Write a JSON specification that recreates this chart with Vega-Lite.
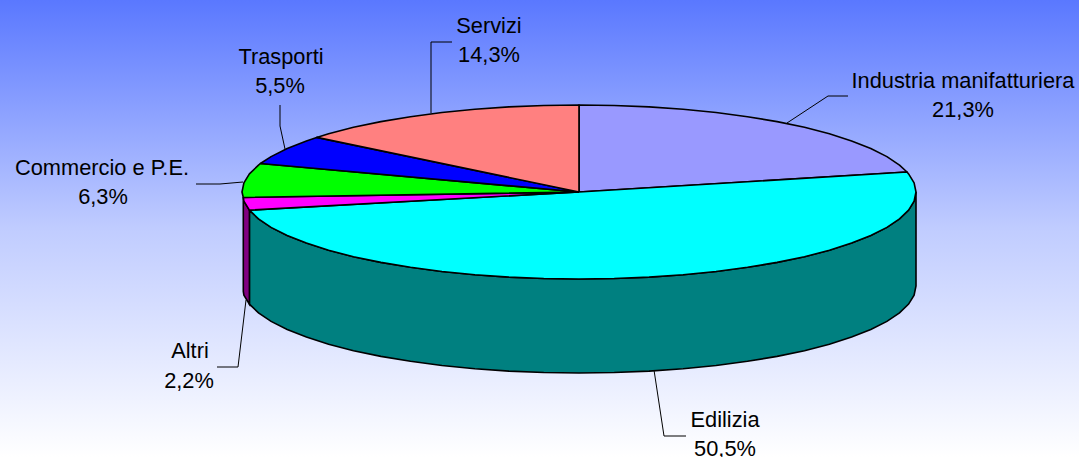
{
"$schema":"https://vega.github.io/schema/vega-lite/v6.json",
"width":1079,"height":457,
"autosize":"none",
"padding":0,
"config":{"view":{"stroke":null},"font":"Liberation Sans"},
"view":{"stroke":null,"fill":{"gradient":"linear","x1":0,"y1":0,"x2":0,"y2":1,"stops":[{"offset":0,"color":"#5a78ff"},{"offset":0.5,"color":"#c0ccff"},{"offset":1,"color":"#ffffff"}]}},
"datasets":{
"walls":[
{"s":"Edilizia","x":916,"y":192,"y2":286},
{"s":"Edilizia","x":914.1,"y":201.1,"y2":295.1},
{"s":"Edilizia","x":908.6,"y":210.1,"y2":304.1},
{"s":"Edilizia","x":899.5,"y":218.9,"y2":312.9},
{"s":"Edilizia","x":886.9,"y":227.4,"y2":321.4},
{"s":"Edilizia","x":870.8,"y":235.5,"y2":329.5},
{"s":"Edilizia","x":851.6,"y":243.1,"y2":337.1},
{"s":"Edilizia","x":829.4,"y":250.2,"y2":344.2},
{"s":"Edilizia","x":804.5,"y":256.7,"y2":350.7},
{"s":"Edilizia","x":777.1,"y":262.4,"y2":356.4},
{"s":"Edilizia","x":747.5,"y":267.3,"y2":361.3},
{"s":"Edilizia","x":716.1,"y":271.5,"y2":365.5},
{"s":"Edilizia","x":683.1,"y":274.7,"y2":368.7},
{"s":"Edilizia","x":649.1,"y":277.1,"y2":371.1},
{"s":"Edilizia","x":614.2,"y":278.5,"y2":372.5},
{"s":"Edilizia","x":579,"y":279,"y2":373},
{"s":"Edilizia","x":543.8,"y":278.5,"y2":372.5},
{"s":"Edilizia","x":508.9,"y":277.1,"y2":371.1},
{"s":"Edilizia","x":474.9,"y":274.7,"y2":368.7},
{"s":"Edilizia","x":441.9,"y":271.5,"y2":365.5},
{"s":"Edilizia","x":410.5,"y":267.3,"y2":361.3},
{"s":"Edilizia","x":380.9,"y":262.4,"y2":356.4},
{"s":"Edilizia","x":353.5,"y":256.7,"y2":350.7},
{"s":"Edilizia","x":328.6,"y":250.2,"y2":344.2},
{"s":"Edilizia","x":306.4,"y":243.1,"y2":337.1},
{"s":"Edilizia","x":287.2,"y":235.5,"y2":329.5},
{"s":"Edilizia","x":271.1,"y":227.4,"y2":321.4},
{"s":"Edilizia","x":258.5,"y":218.9,"y2":312.9},
{"s":"Edilizia","x":249.4,"y":210.1,"y2":304.1},
{"s":"Altri","x":249.4,"y":210.1,"y2":304.1},
{"s":"Altri","x":243.9,"y":201.1,"y2":295.1},
{"s":"Altri","x":243.3,"y":197.5,"y2":291.5}
],
"tops":[
{"s":"Industria","i":0,"x":579,"y":192},
{"s":"Industria","i":1,"x":579,"y":105},
{"s":"Industria","i":2,"x":614.2,"y":105.5},
{"s":"Industria","i":3,"x":649.1,"y":106.9},
{"s":"Industria","i":4,"x":683.1,"y":109.3},
{"s":"Industria","i":5,"x":716.1,"y":112.5},
{"s":"Industria","i":6,"x":747.5,"y":116.7},
{"s":"Industria","i":7,"x":777.1,"y":121.6},
{"s":"Industria","i":8,"x":804.5,"y":127.3},
{"s":"Industria","i":9,"x":829.4,"y":133.8},
{"s":"Industria","i":10,"x":851.6,"y":140.9},
{"s":"Industria","i":11,"x":870.8,"y":148.5},
{"s":"Industria","i":12,"x":886.9,"y":156.6},
{"s":"Industria","i":13,"x":899.5,"y":165.1},
{"s":"Industria","i":14,"x":907,"y":172},
{"s":"Industria","i":15,"x":579,"y":192},
{"s":"Edilizia","i":0,"x":579,"y":192},
{"s":"Edilizia","i":1,"x":907,"y":172},
{"s":"Edilizia","i":2,"x":908.6,"y":173.9},
{"s":"Edilizia","i":3,"x":914.1,"y":182.9},
{"s":"Edilizia","i":4,"x":916,"y":192},
{"s":"Edilizia","i":5,"x":914.1,"y":201.1},
{"s":"Edilizia","i":6,"x":908.6,"y":210.1},
{"s":"Edilizia","i":7,"x":899.5,"y":218.9},
{"s":"Edilizia","i":8,"x":886.9,"y":227.4},
{"s":"Edilizia","i":9,"x":870.8,"y":235.5},
{"s":"Edilizia","i":10,"x":851.6,"y":243.1},
{"s":"Edilizia","i":11,"x":829.4,"y":250.2},
{"s":"Edilizia","i":12,"x":804.5,"y":256.7},
{"s":"Edilizia","i":13,"x":777.1,"y":262.4},
{"s":"Edilizia","i":14,"x":747.5,"y":267.3},
{"s":"Edilizia","i":15,"x":716.1,"y":271.5},
{"s":"Edilizia","i":16,"x":683.1,"y":274.7},
{"s":"Edilizia","i":17,"x":649.1,"y":277.1},
{"s":"Edilizia","i":18,"x":614.2,"y":278.5},
{"s":"Edilizia","i":19,"x":579,"y":279},
{"s":"Edilizia","i":20,"x":543.8,"y":278.5},
{"s":"Edilizia","i":21,"x":508.9,"y":277.1},
{"s":"Edilizia","i":22,"x":474.9,"y":274.7},
{"s":"Edilizia","i":23,"x":441.9,"y":271.5},
{"s":"Edilizia","i":24,"x":410.5,"y":267.3},
{"s":"Edilizia","i":25,"x":380.9,"y":262.4},
{"s":"Edilizia","i":26,"x":353.5,"y":256.7},
{"s":"Edilizia","i":27,"x":328.6,"y":250.2},
{"s":"Edilizia","i":28,"x":306.4,"y":243.1},
{"s":"Edilizia","i":29,"x":287.2,"y":235.5},
{"s":"Edilizia","i":30,"x":271.1,"y":227.4},
{"s":"Edilizia","i":31,"x":258.5,"y":218.9},
{"s":"Edilizia","i":32,"x":249.4,"y":210.1},
{"s":"Edilizia","i":33,"x":579,"y":192},
{"s":"Altri","i":0,"x":579,"y":192},
{"s":"Altri","i":1,"x":249.4,"y":210.1},
{"s":"Altri","i":2,"x":243.9,"y":201.1},
{"s":"Altri","i":3,"x":243.3,"y":197.5},
{"s":"Altri","i":4,"x":579,"y":192},
{"s":"Commercio","i":0,"x":579,"y":192},
{"s":"Commercio","i":1,"x":243.3,"y":197.5},
{"s":"Commercio","i":2,"x":242,"y":192},
{"s":"Commercio","i":3,"x":243.9,"y":182.9},
{"s":"Commercio","i":4,"x":249.4,"y":173.9},
{"s":"Commercio","i":5,"x":258.5,"y":165.1},
{"s":"Commercio","i":6,"x":260.4,"y":163.5},
{"s":"Commercio","i":7,"x":579,"y":192},
{"s":"Trasporti","i":0,"x":579,"y":192},
{"s":"Trasporti","i":1,"x":260.4,"y":163.5},
{"s":"Trasporti","i":2,"x":271.1,"y":156.6},
{"s":"Trasporti","i":3,"x":287.2,"y":148.5},
{"s":"Trasporti","i":4,"x":306.4,"y":140.9},
{"s":"Trasporti","i":5,"x":316.7,"y":137.4},
{"s":"Trasporti","i":6,"x":579,"y":192},
{"s":"Servizi","i":0,"x":579,"y":192},
{"s":"Servizi","i":1,"x":316.7,"y":137.4},
{"s":"Servizi","i":2,"x":328.6,"y":133.8},
{"s":"Servizi","i":3,"x":353.5,"y":127.3},
{"s":"Servizi","i":4,"x":380.9,"y":121.6},
{"s":"Servizi","i":5,"x":410.5,"y":116.7},
{"s":"Servizi","i":6,"x":441.9,"y":112.5},
{"s":"Servizi","i":7,"x":474.9,"y":109.3},
{"s":"Servizi","i":8,"x":508.9,"y":106.9},
{"s":"Servizi","i":9,"x":543.8,"y":105.5},
{"s":"Servizi","i":10,"x":579,"y":105},
{"s":"Servizi","i":11,"x":579,"y":192}
],
"leaders":[
{"s":"Industria","i":0,"x":787,"y":123},{"s":"Industria","i":1,"x":828,"y":96},{"s":"Industria","i":2,"x":848,"y":96},
{"s":"Trasporti","i":0,"x":280,"y":105},{"s":"Trasporti","i":1,"x":280,"y":126},{"s":"Trasporti","i":2,"x":285,"y":149},
{"s":"Servizi","i":0,"x":431,"y":113},{"s":"Servizi","i":1,"x":431,"y":42},{"s":"Servizi","i":2,"x":452,"y":42},
{"s":"Commercio","i":0,"x":196,"y":184},{"s":"Commercio","i":1,"x":220,"y":184},{"s":"Commercio","i":2,"x":243,"y":182},
{"s":"Altri","i":0,"x":246,"y":300},{"s":"Altri","i":1,"x":238,"y":367},{"s":"Altri","i":2,"x":217,"y":367},
{"s":"Edilizia","i":0,"x":654,"y":370},{"s":"Edilizia","i":1,"x":664,"y":436},{"s":"Edilizia","i":2,"x":686,"y":436}
],
"labels":[
{"t":"Servizi","x":489,"y":26},{"t":"14,3%","x":489,"y":55},
{"t":"Trasporti","x":281,"y":57},{"t":"5,5%","x":280,"y":86},
{"t":"Industria manifatturiera","x":963,"y":81},{"t":"21,3%","x":963,"y":110},
{"t":"Commercio e P.E.","x":102,"y":168},{"t":"6,3%","x":103,"y":197},
{"t":"Altri","x":190,"y":351},{"t":"2,2%","x":189,"y":381},
{"t":"Edilizia","x":725,"y":420},{"t":"50,5%","x":725,"y":449}
]
},
"layer":[
{"data":{"name":"walls"},
 "mark":{"type":"area","stroke":"black","strokeWidth":1.6},
 "encoding":{
  "x":{"field":"x","type":"quantitative","scale":{"domain":[0,1079],"nice":false,"zero":false},"axis":null},
  "y":{"field":"y","type":"quantitative","scale":{"domain":[457,0],"nice":false,"zero":false},"axis":null},
  "y2":{"field":"y2"},
  "fill":{"field":"s","type":"nominal","scale":{"domain":["Edilizia","Altri"],"range":["#008080","#800080"]},"legend":null}
 }},
{"data":{"name":"tops"},
 "mark":{"type":"line","stroke":"black","strokeWidth":1.6,"strokeJoin":"round"},
 "encoding":{
  "x":{"field":"x","type":"quantitative","axis":null},
  "y":{"field":"y","type":"quantitative","axis":null},
  "order":{"field":"i","type":"quantitative"},
  "detail":{"field":"s"},
  "fill":{"field":"s","type":"nominal","scale":{"domain":["Industria","Edilizia","Altri","Commercio","Trasporti","Servizi"],"range":["#9999ff","#00ffff","#ff00ff","#00ff00","#0000ff","#ff8080"]},"legend":null}
 }},
{"data":{"name":"leaders"},
 "mark":{"type":"line","stroke":"black","strokeWidth":1},
 "encoding":{
  "x":{"field":"x","type":"quantitative","axis":null},
  "y":{"field":"y","type":"quantitative","axis":null},
  "order":{"field":"i","type":"quantitative"},
  "detail":{"field":"s"}
 }},
{"data":{"name":"labels"},
 "mark":{"type":"text","font":"Liberation Sans","fontSize":21.8,"color":"black","align":"center","baseline":"middle"},
 "encoding":{
  "x":{"field":"x","type":"quantitative","axis":null},
  "y":{"field":"y","type":"quantitative","axis":null},
  "text":{"field":"t"}
 }}
],
"resolve":{"scale":{"fill":"independent"}}
}
